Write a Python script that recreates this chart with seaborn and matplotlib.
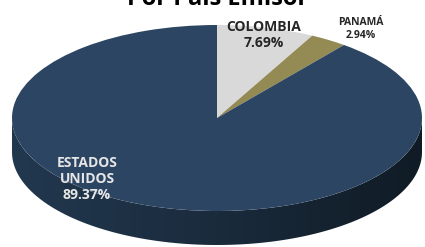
import numpy as np
import matplotlib.pyplot as plt
import seaborn as sns
from matplotlib.patches import Polygon

sns.set_theme(style="white")
plt.rcParams['font.family'] = ['Open Sans', 'DejaVu Sans']

# datos
paises = ["COLOMBIA", "PANAMÁ", "ESTADOS\nUNIDOS"]
porcentajes = [7.69, 2.94, 89.37]
colores = ["#D9D9D9", "#948A54", "#2B4562"]
titulo = "Por País Emisor"

W, H = 425, 247
cx, cy = 217, 118      # centro de la elipse (px)
a, b = 205, 93         # semiejes (px)
prof = 34              # grosor del disco (px)

fig = plt.figure(figsize=(W / 100, H / 100), dpi=100)
ax = fig.add_axes([0, 0, 1, 1])

# coordenadas: círculo unitario que se ve como elipse
ax.set_xlim(-cx / a, (W - cx) / a)
ax.set_ylim((cy - H) / b, cy / b)
d = prof / b

# cara lateral (mitad frontal) con degradado
t = np.linspace(np.pi, 2 * np.pi, 200)
xs = np.cos(t)
ys = np.sin(t)
pts = np.concatenate([np.c_[xs, ys], np.c_[xs[::-1], ys[::-1] - d]])
lado = Polygon(pts, closed=True, facecolor="none", edgecolor="none")
ax.add_patch(lado)
grad = np.linspace(0, 1, 256).reshape(1, -1)
cmap = sns.blend_palette(["#22384F", "#1A2B3C", "#101B25"], as_cmap=True)
img = ax.imshow(grad, cmap=cmap, extent=[-1, 1, -1 - d, 0], aspect="auto", zorder=1)
img.set_clip_path(lado)

# cara superior
wedges, _ = ax.pie(porcentajes, colors=colores, startangle=90, counterclock=False,
                   radius=1, center=(0, 0), frame=True,
                   wedgeprops=dict(linewidth=0, antialiased=True))
for w in wedges:
    w.set_zorder(2)
ax.set_aspect("auto")
ax.set_xlim(-cx / a, (W - cx) / a)
ax.set_ylim((cy - H) / b, cy / b)
ax.axis("off")

def px(x, y):
    return (x - cx) / a, (cy - y) / b

ax.text(*px(264, 35), "COLOMBIA\n7.69%", ha="center", va="center", fontsize=10,
        fontweight="bold", color="#262626", linespacing=1.1, zorder=3)
ax.text(*px(361, 29), "PANAMÁ\n2.94%", ha="center", va="center", fontsize=7.5,
        fontweight="bold", color="#262626", linespacing=1.25, zorder=3)
ax.text(*px(87, 179), "ESTADOS\nUNIDOS\n89.37%", ha="center", va="center", fontsize=10,
        fontweight="bold", color="#E6E6E6", linespacing=1.2, zorder=3)

# título (cortado en la parte superior, como en el original)
ax.text(*px(218, 5), titulo, ha="center", va="baseline", fontsize=17,
        fontweight="bold", color="black", zorder=3, clip_on=False)

fig.savefig("out.png", dpi=100)
